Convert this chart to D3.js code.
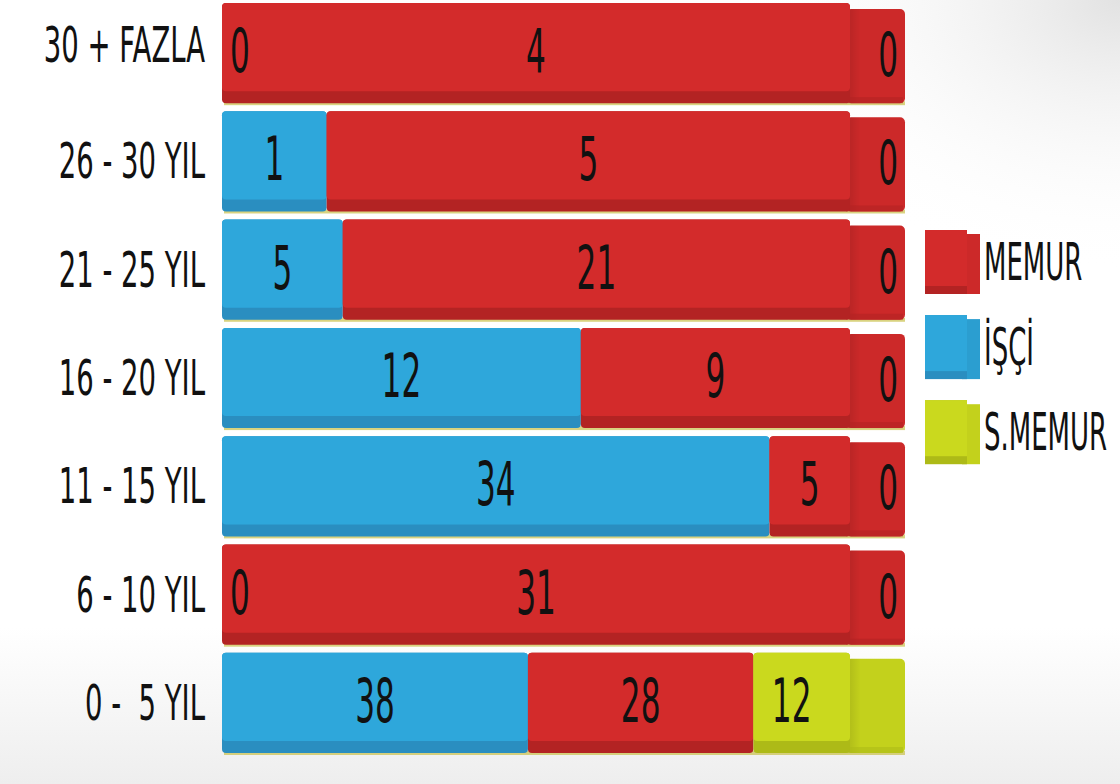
<!DOCTYPE html>
<html>
<head>
<meta charset="utf-8">
<script src="https://cdn.jsdelivr.net/npm/d3@7"></script>
<style>
  html, body { margin: 0; padding: 0; background: #ffffff; }
  svg { display: block; }
  text { white-space: pre; }
</style>
</head>
<body>
<svg id="chart" width="1120" height="784"></svg>
<script>
// ---- data ----
const categories = ["30 + FAZLA", "26 - 30 YIL", "21 - 25 YIL", "16 - 20 YIL", "11 - 15 YIL", "6 - 10 YIL", "0 -  5 YIL"];
const seriesKeys = ["ISCI", "MEMUR", "SMEMUR"];
const isciValues   = [0, 1, 5, 12, 34, 0, 38];
const memurValues  = [4, 5, 21, 9, 5, 31, 28];
const smemurValues = [0, 0, 0, 0, 0, 0, 12];
const legendKeys   = ["MEMUR", "ISCI", "SMEMUR"];
const legendLabels = ["MEMUR", "İŞÇİ", "S.MEMUR"];

// ---- styles ----
const colors = { ISCI: "#2ea7db", MEMUR: "#d32b2b", SMEMUR: "#cad91e" };
const darkColors = { ISCI: "#2a8ec0", MEMUR: "#b32323", SMEMUR: "#adba17" };
const capColors = { ISCI: "#2b9ed0", MEMUR: "#cc2929", SMEMUR: "#c3d11c" };
const FONT = "DejaVu Sans, Verdana, sans-serif";

const rows = categories.map((c, i) => ({ cat: c, ISCI: isciValues[i], MEMUR: memurValues[i], SMEMUR: smemurValues[i] }));

const svg = d3.select("#chart");
const W = 1120, H = 784;

// background
const defs = svg.append("defs");
const bg = defs.append("radialGradient").attr("id", "bgTR").attr("cx", "100%").attr("cy", "0%").attr("r", "35%");
bg.append("stop").attr("offset", "0%").attr("stop-color", "#e2e2e2");
bg.append("stop").attr("offset", "100%").attr("stop-color", "#ffffff").attr("stop-opacity", 0);
const bg2 = defs.append("linearGradient").attr("id", "bgB").attr("x1", 0).attr("y1", 0).attr("x2", 0).attr("y2", 1);
bg2.append("stop").attr("offset", "0%").attr("stop-color", "#ffffff");
bg2.append("stop").attr("offset", "80%").attr("stop-color", "#ffffff");
bg2.append("stop").attr("offset", "100%").attr("stop-color", "#eeeeee");
svg.append("rect").attr("width", W).attr("height", H).attr("fill", "url(#bgB)");
svg.append("rect").attr("width", W).attr("height", H).attr("fill", "url(#bgTR)");

const capGrad = defs.append("linearGradient").attr("id", "capShade").attr("x1", 0).attr("x2", 1);
capGrad.append("stop").attr("offset", "0%").attr("stop-color", "#000").attr("stop-opacity", 0.12);
capGrad.append("stop").attr("offset", "25%").attr("stop-color", "#000").attr("stop-opacity", 0.0);

// scales
const y = d3.scaleBand().domain(categories).range([3, 753]).paddingInner(0.075);
const x = d3.scaleLinear().domain([0, 1]).range([222, 850]);
const capRight = 905;

const stack = d3.stack().keys(seriesKeys).offset(d3.stackOffsetExpand);
const stacked = stack(rows);

const bh = y.bandwidth();
const stripH = 12;

function sText(g, txt, px, py, size, sx, anchor) {
  g.append("g").attr("transform", `translate(${px},${py})`)
    .append("text")
    .attr("transform", `scale(${sx},1)`)
    .attr("text-anchor", anchor || "middle")
    .attr("font-family", FONT)
    .attr("font-size", size)
    .attr("fill", "#111")
    .attr("xml:space", "preserve")
    .text(txt);
}

const barsG = svg.append("g");

rows.forEach((r, i) => {
  const top = y(r.cat);
  const g = barsG.append("g");
  g.append("rect").attr("x", 224).attr("y", top + bh - 2).attr("width", capRight - 224).attr("height", 4)
    .attr("fill", "#c9c04a").attr("opacity", 0.7);

  let lastKey = null;
  seriesKeys.forEach(k => { if (r[k] > 0) lastKey = k; });

  const capX = x(1) - 4;
  g.append("rect").attr("x", capX).attr("y", top + 6).attr("width", capRight - capX).attr("height", bh - 6)
    .attr("rx", 5).attr("fill", capColors[lastKey]);
  g.append("rect").attr("x", capX).attr("y", top + 6).attr("width", capRight - capX).attr("height", bh - 6)
    .attr("rx", 5).attr("fill", "url(#capShade)");
  g.append("rect").attr("x", capX).attr("y", top + bh - 6).attr("width", capRight - capX - 2).attr("height", 6)
    .attr("fill", darkColors[lastKey]).attr("opacity", 0.6);

  stacked.forEach(s => {
    const d = s[i];
    const k = s.key;
    if (r[k] <= 0) return;
    const x0 = x(d[0]), x1 = x(d[1]);
    g.append("rect").attr("x", x0).attr("y", top).attr("width", x1 - x0).attr("height", bh)
      .attr("rx", 4).attr("fill", darkColors[k]);
    g.append("rect").attr("x", x0).attr("y", top).attr("width", x1 - x0).attr("height", bh - stripH)
      .attr("rx", 4).attr("fill", colors[k]);
  });

  const base = top + bh / 2 + 19;
  stacked.forEach((s, si) => {
    const d = s[i];
    const k = s.key;
    const v = r[k];
    if (v > 0) {
      let px = (x(d[0]) + x(d[1])) / 2;
      if (k === "SMEMUR") px -= 10;
      sText(g, v, px, base, 60, 0.52, "middle");
    } else if (si === 0) {
      sText(g, v, 230, base, 60, 0.52, "start");
    } else if (si === seriesKeys.length - 1) {
      sText(g, v, 898, base + 4, 60, 0.52, "end");
    }
  });

  const labelShift = i === 0 ? -8 : 0;
  sText(svg, r.cat, 205, top + bh / 2 + 17 + labelShift, 50, 0.55, "end");
});

// legend
const lg = svg.append("g");
const legendTops = d3.scaleBand().domain(legendKeys).range([230, 470]).paddingInner(0.18);
legendKeys.forEach((k, i) => {
  const t = legendTops(k);
  const h = 64;
  lg.append("rect").attr("x", 962).attr("y", t + 4).attr("width", 18).attr("height", h - 4).attr("fill", capColors[k]);
  lg.append("rect").attr("x", 962).attr("y", t + 4).attr("width", 18).attr("height", h - 4).attr("fill", "url(#capShade)");
  lg.append("rect").attr("x", 925).attr("y", t).attr("width", 42).attr("height", h).attr("fill", darkColors[k]);
  lg.append("rect").attr("x", 925).attr("y", t).attr("width", 42).attr("height", h - 8).attr("fill", colors[k]);
  sText(lg, legendLabels[i], 984, t + 50, 52, 0.5, "start");
});
</script>
</body>
</html>
